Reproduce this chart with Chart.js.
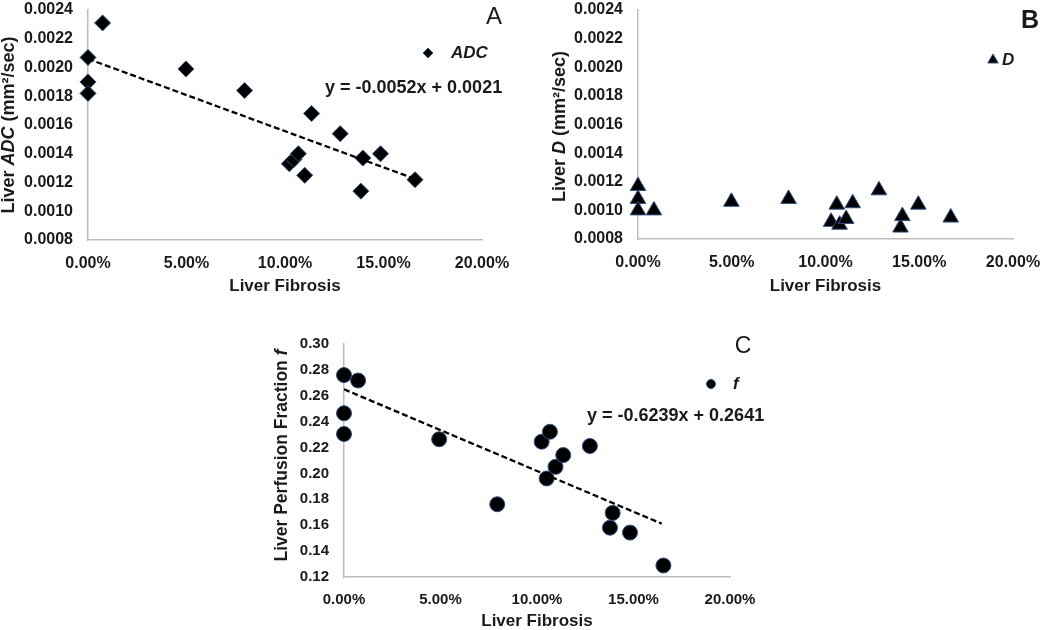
<!DOCTYPE html>
<html><head><meta charset="utf-8">
<script src="https://cdn.jsdelivr.net/npm/chart.js@4.4.0/dist/chart.umd.min.js"></script>
<style>
html,body{margin:0;padding:0;background:#fff;width:1050px;height:630px;overflow:hidden}
.box{position:absolute}
</style></head><body>
<div class="box" style="left:0;top:0;width:520px;height:300px"><canvas id="cA"></canvas></div>
<div class="box" style="left:520px;top:0;width:530px;height:300px"><canvas id="cB"></canvas></div>
<div class="box" style="left:250px;top:300px;width:550px;height:330px"><canvas id="cC"></canvas></div>
<script>
// ---- data (liver fibrosis as fraction) ----
const fibrosisA = [0, 0, 0, 0.0074, 0.0497, 0.0795, 0.1022, 0.1045, 0.1068, 0.1100, 0.1135, 0.1280, 0.1385, 0.1395, 0.1485, 0.1660];
const adcA      = [0.00207, 0.00190, 0.00182, 0.00231, 0.00199, 0.00184, 0.00133, 0.00136, 0.00140, 0.00125, 0.00168, 0.00154, 0.00114, 0.00137, 0.00140, 0.00122];
const trendAx   = [0, 0.165];
const trendAy   = [0.00206, 0.00123];

const fibrosisB = [0, 0, 0, 0.0085, 0.0498, 0.0803, 0.1030, 0.1060, 0.1075, 0.1110, 0.1145, 0.1285, 0.1400, 0.1410, 0.1495, 0.1668];
const dB        = [0.00117, 0.00108, 0.00100, 0.00100, 0.00106, 0.00108, 0.00092, 0.00104, 0.00090, 0.00094, 0.00105, 0.00114, 0.00088, 0.00096, 0.00104, 0.00095];

const fibrosisC = [0, 0, 0, 0.0073, 0.0493, 0.0794, 0.1024, 0.1050, 0.1067, 0.1096, 0.1136, 0.1274, 0.1378, 0.1392, 0.1482, 0.1655];
const fC        = [0.276, 0.2465, 0.2305, 0.2718, 0.2264, 0.1762, 0.2245, 0.1961, 0.2322, 0.2051, 0.2142, 0.2212, 0.1581, 0.1695, 0.1543, 0.1289];
const trendCx   = [0, 0.1646];
const trendCy   = [0.265, 0.1612];

const xTicks   = [0, 0.05, 0.10, 0.15, 0.20];
const yTicksAB = [0.0008, 0.0010, 0.0012, 0.0014, 0.0016, 0.0018, 0.0020, 0.0022, 0.0024];
const yTicksC  = [0.12, 0.14, 0.16, 0.18, 0.20, 0.22, 0.24, 0.26, 0.28, 0.30];

// ---- styling helpers ----
const FAM = '"Liberation Sans", Arial, sans-serif';
const TXT = '#1a1a1a';
const AXIS = '#bdbdbd';
const EDGE = '#2d4f80';

function drawMarker(ctx, style, x, y, r){
  ctx.beginPath();
  if (style === 'rectRot'){
    ctx.moveTo(x, y - r); ctx.lineTo(x + r, y); ctx.lineTo(x, y + r); ctx.lineTo(x - r, y); ctx.closePath();
  } else if (style === 'triangle'){
    ctx.moveTo(x, y - r); ctx.lineTo(x + r*0.866, y + r*0.5); ctx.lineTo(x - r*0.866, y + r*0.5); ctx.closePath();
  } else {
    ctx.arc(x, y, r, 0, Math.PI*2);
  }
  ctx.fillStyle = '#000'; ctx.fill();
  ctx.lineWidth = 1; ctx.strokeStyle = EDGE; ctx.stroke();
}

const annot = {
  id: 'annot',
  afterDraw(chart, args, o){
    const ctx = chart.ctx, ca = chart.chartArea;
    ctx.save();
    ctx.fillStyle = TXT; ctx.textBaseline = 'middle';
    // y-axis title with mixed styles
    ctx.save();
    ctx.translate(ca.left + o.yTitle.dx, (ca.top + ca.bottom)/2 + o.yTitle.dy);
    ctx.rotate(-Math.PI/2);
    let total = 0;
    o.yTitle.parts.forEach(p => { ctx.font = (p.italic ? 'italic ' : '') + 'bold ' + o.yTitle.size + 'px ' + FAM; p.w = ctx.measureText(p.text).width; total += p.w; });
    let xx = -total/2;
    ctx.textAlign = 'left';
    o.yTitle.parts.forEach(p => { ctx.font = (p.italic ? 'italic ' : '') + 'bold ' + o.yTitle.size + 'px ' + FAM; ctx.fillText(p.text, xx, 0); xx += p.w; });
    ctx.restore();
    // legend
    const lg = o.legend;
    drawMarker(ctx, lg.style, ca.right + lg.mx, ca.top + lg.my, lg.r);
    ctx.fillStyle = TXT;
    ctx.font = 'italic bold ' + lg.size + 'px ' + FAM; ctx.textAlign = 'left';
    ctx.fillText(lg.text, ca.right + lg.tx, ca.top + lg.my);
    // equation
    if (o.eq){
      ctx.font = 'bold ' + o.eq.size + 'px ' + FAM; ctx.textAlign = 'left';
      ctx.fillText(o.eq.text, ca.right + o.eq.x, ca.top + o.eq.y);
    }
    // panel letter
    ctx.font = o.letter.weight + ' ' + o.letter.size + 'px ' + FAM; ctx.textAlign = 'center';
    ctx.fillText(o.letter.text, ca.right + o.letter.x, ca.top + o.letter.y);
    ctx.restore();
  }
};

function pts(xs, ys){ return xs.map((x, i) => ({x: x, y: ys[i]})); }

function makeChart(id, cfg){
  const datasets = [];
  if (cfg.trend){
    datasets.push({ data: pts(cfg.trend[0], cfg.trend[1]), showLine: true, borderColor: '#000', borderWidth: 2.3,
      borderDash: [6, 3], pointRadius: 0, fill: false, clip: false });
  }
  datasets.push({ data: pts(cfg.xs, cfg.ys), pointStyle: cfg.style, pointRadius: cfg.radius, pointHoverRadius: cfg.radius,
    backgroundColor: '#000', borderColor: EDGE, borderWidth: 1, showLine: false, clip: false });
  return new Chart(document.getElementById(id), {
    type: 'scatter',
    data: { datasets },
    plugins: [annot],
    options: {
      responsive: true, maintainAspectRatio: false, animation: false, devicePixelRatio: 1,
      layout: { padding: cfg.pad },
      plugins: { legend: { display: false }, tooltip: { enabled: false }, annot: cfg.annot },
      scales: {
        x: {
          type: 'linear', min: 0, max: 0.2,
          grid: { display: false, drawTicks: false },
          border: { display: true, color: AXIS, width: 1.5 },
          afterBuildTicks: s => { s.ticks = xTicks.map(v => ({ value: v })); },
          ticks: { padding: cfg.xPad, color: TXT, maxRotation: 0, autoSkip: false,
            font: { family: FAM, size: cfg.tickSize, weight: 'bold' },
            callback: v => (v * 100).toFixed(2) + '%' },
          title: { display: true, text: 'Liver Fibrosis', color: TXT,
            font: { family: FAM, size: 17, weight: 'bold', lineHeight: 1 }, padding: { top: 0, bottom: cfg.xTitlePad } },
          afterFit: s => { s.height = cfg.xH; s.paddingLeft = 0; s.paddingRight = 0; }
        },
        y: {
          type: 'linear', min: cfg.yMin, max: cfg.yMax,
          grid: { display: false, drawTicks: false },
          border: { display: true, color: AXIS, width: 1.5 },
          afterBuildTicks: s => { s.ticks = cfg.yTicks.map(v => ({ value: v })); },
          ticks: { padding: 15, color: TXT, autoSkip: false,
            font: { family: FAM, size: cfg.tickSize, weight: 'bold' },
            callback: v => v.toFixed(cfg.yDec) },
          afterFit: s => { s.width = cfg.yW; s.paddingTop = 0; s.paddingBottom = 0; }
        }
      }
    }
  });
}

makeChart('cA', {
  xs: fibrosisA, ys: adcA, trend: [trendAx, trendAy], style: 'rectRot', radius: 8,
  pad: { left: 0, top: 10, right: 38, bottom: 0 }, xH: 60, yW: 88, xPad: 14, xTitlePad: 5, tickSize: 16,
  yMin: 0.0008, yMax: 0.0024, yTicks: yTicksAB, yDec: 4,
  annot: {
    yTitle: { dx: -79, dy: 0, size: 18, parts: [{text: 'Liver '}, {text: 'ADC', italic: true}, {text: ' (mm\u00B2/sec)'}] },
    legend: { style: 'rectRot', r: 5, mx: -54, my: 43, tx: -31, text: 'ADC', size: 17 },
    eq: { text: 'y = -0.0052x + 0.0021', x: -157, y: 78, size: 18 },
    letter: { text: 'A', x: 12, y: 7, size: 24, weight: 'normal' }
  }
});

makeChart('cB', {
  xs: fibrosisB, ys: dB, style: 'triangle', radius: 9,
  pad: { left: 0, top: 10, right: 37, bottom: 0 }, xH: 61, yW: 118, xPad: 14, xTitlePad: 5, tickSize: 16,
  yMin: 0.0008, yMax: 0.0024, yTicks: yTicksAB, yDec: 4,
  annot: {
    yTitle: { dx: -78, dy: 2, size: 18, parts: [{text: 'Liver '}, {text: 'D', italic: true}, {text: ' (mm\u00B2/sec)'}] },
    legend: { style: 'triangle', r: 6, mx: -20, my: 50, tx: -11, text: 'D', size: 17 },
    letter: { text: 'B', x: 17, y: 11, size: 25, weight: 'bold' }
  }
});

makeChart('cC', {
  xs: fibrosisC, ys: fC, trend: [trendCx, trendCy], style: 'circle', radius: 7.5,
  pad: { left: 0, top: 44, right: 70, bottom: 0 }, xH: 53, yW: 94, xPad: 14, xTitlePad: 0, tickSize: 15,
  yMin: 0.12, yMax: 0.30, yTicks: yTicksC, yDec: 2,
  annot: {
    yTitle: { dx: -62, dy: -5, size: 17.5, parts: [{text: 'Liver Perfusion Fraction '}, {text: 'f', italic: true}] },
    legend: { style: 'circle', r: 4.5, mx: -19, my: 40, tx: 3, text: 'f', size: 17 },
    eq: { text: 'y = -0.6239x + 0.2641', x: -143, y: 72, size: 18 },
    letter: { text: 'C', x: 13, y: 3, size: 23, weight: 'normal' }
  }
});
</script>
</body></html>
